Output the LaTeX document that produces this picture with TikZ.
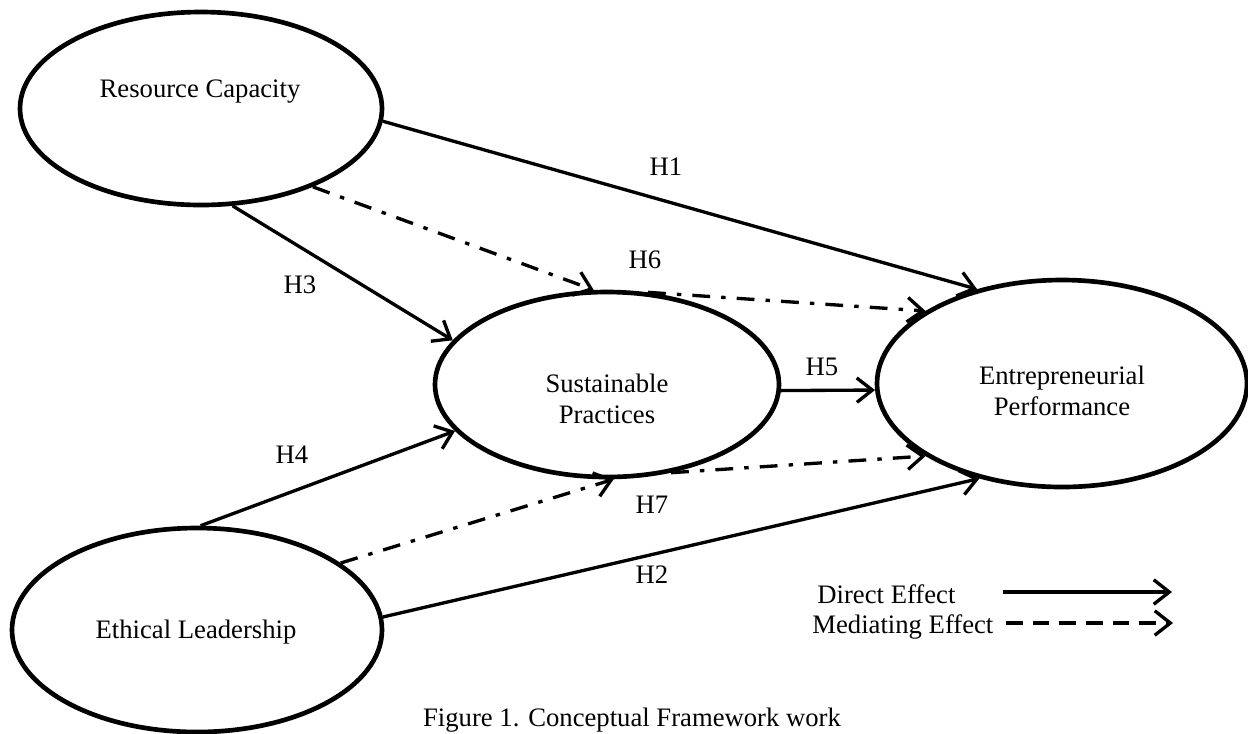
\documentclass[tikz,border=0pt]{standalone}
\usepackage{fontspec}
\setmainfont{Liberation Serif}
\usetikzlibrary{shapes.geometric,arrows.meta}

\tikzset{
  construct/.style={draw,ellipse,line width=2.1pt,inner sep=0pt},
  direct/.style={->,line width=1.5pt},
  mediating/.style={->,line width=1.5pt,dash pattern=on 8pt off 5pt on 2pt off 5pt},
}

\begin{document}
\begin{tikzpicture}[x=0.45pt,y=-0.45pt,>={Straight Barb[length=7pt,width=11pt]},font=\fontsize{12}{14}\selectfont]
    \useasboundingbox (0,0) rectangle (1248,733);
    % constructs
    \node[construct,minimum width=162.9pt,minimum height=86.85pt] (rc) at (201,108.5) {};
    \node[construct,minimum width=154.8pt,minimum height=83.25pt] (sp) at (607,384.5) {};
    \node[construct,minimum width=166.5pt,minimum height=93.15pt] (ep) at (1062,383.5) {};
    \node[construct,minimum width=166.5pt,minimum height=91.8pt] (el) at (197,630) {};
    \node (rctext) at (200,92) {Resource Capacity};
    \node[align=center] (sptext) at (607,399) {Sustainable\\Practices};
    \node[align=center] (eptext) at (1062,391) {Entrepreneurial\\Performance};
    \node (eltext) at (196,632) {Ethical Leadership};
    % direct paths
    \draw[direct] (rc.-4.3) -- (ep.132.3);
    \draw[direct] (el.4.3) -- (ep.229);
    \draw[direct] (rc.-72.4) -- (sp.164.9);
    \draw[direct] (el.88.4) -- (sp.197.6);
    \draw[direct] (sp.-2.5) -- (ep.182.6);
    % mediating paths
    \draw[mediating] (rc.-35.8) -- (sp.98.3);
    \draw[mediating] (sp.66.6) -- (ep.152.1);
    \draw[mediating] (el.25.4) -- (sp.-86.3);
    \draw[mediating] (sp.-54.2) -- (ep.208);
    \foreach \n/\x/\y in {1/666/167,2/652/575,3/300/285,4/292/455,5/822/367,6/645/260,7/652/505}
        \node (h\n) at (\x,\y) {H\n};
    % legend
    \node[anchor=base west,inner sep=0pt] (directtxt) at (817,603) {Direct Effect};
    \node[anchor=base west,inner sep=0pt] (mediatingtxt) at (812,633) {Mediating Effect};
    \coordinate (d1) at (1003,592);
    \coordinate (d2) at (1172,592);
    \coordinate (m1) at (1006,623);
    \coordinate (m2) at (1173,623);
    \draw[direct] (d1) -- (d2);
    \draw[->,line width=1.5pt,dash pattern=on 7.5pt off 4.5pt] (m1) -- (m2);
    \node[anchor=base] (caption) at (632,726) {Figure 1. Conceptual Framework work};
\end{tikzpicture}
\end{document}
